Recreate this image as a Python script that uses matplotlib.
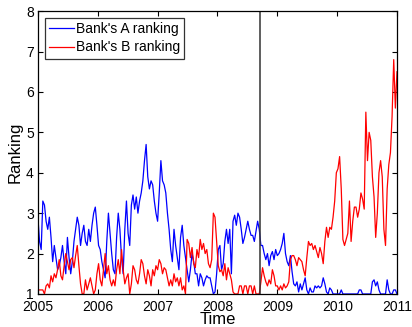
import matplotlib
matplotlib.use("Agg")
import matplotlib.pyplot as plt
import pandas as pd

plt.rcParams['font.family'] = ['Liberation Sans', 'DejaVu Sans']

start_date = "2005-01-01"
step = "10D"

bank_a = [
    2.9, 2.3, 2.1, 3.3, 3.2, 2.8, 2.6, 2.9, 2.4, 1.8, 2.2, 1.9, 1.6, 1.7, 1.9, 2.2, 1.8, 1.5, 2.4, 1.9,
    1.5, 1.8, 2.3, 2.6, 2.9, 2.7, 2.2, 2.5, 2.7, 2.3, 2.2, 2.6, 2.3, 2.7, 3.0, 3.15, 2.7, 2.2, 2.1, 1.8,
    1.6, 1.4, 2.3, 3.0, 2.5, 2.0, 1.6, 1.5, 2.4, 3.0, 2.6, 1.9, 1.5, 2.6, 3.3, 2.5, 2.2, 3.2, 3.45, 3.1,
    3.4, 3.0, 3.3, 3.5, 3.8, 4.3, 4.7, 3.9, 3.6, 3.8, 3.7, 3.3, 3.0, 2.8, 3.5, 4.3, 3.8, 3.7, 3.5, 3.0,
    2.6, 2.1, 1.8, 2.6, 2.2, 1.9, 1.6, 2.4, 2.7, 2.2, 1.9, 1.6, 1.3, 1.6, 2.0, 1.8, 1.5, 1.5, 1.2, 1.5,
    1.4, 1.2, 1.35, 1.45, 1.4, 1.4, 1.2, 1.0, 1.05, 1.5, 2.1, 2.2, 1.6, 1.75, 2.3, 2.6, 2.25, 2.6, 1.5, 2.8,
    2.95, 2.7, 3.0, 2.9, 2.6, 2.25, 2.4, 2.6, 2.8, 2.6, 2.45, 2.45, 2.3, 2.55, 2.8, 2.6, 2.2, 2.2, 2.0, 1.85,
    2.0, 1.7, 1.95, 2.05, 1.85, 2.1, 1.95, 2.0, 2.1, 2.25, 2.5, 2.0, 1.8, 1.7, 1.95, 1.55, 1.25, 1.2, 1.3, 1.05,
    1.25, 1.1, 1.25, 1.4, 1.1, 1.0, 1.15, 1.05, 1.05, 1.2, 1.15, 1.2, 1.15, 1.2, 1.4, 1.25, 1.05, 1.0, 1.15, 1.1,
    1.0, 1.0, 1.0, 1.0, 1.0, 1.1, 1.0, 1.0, 1.0, 1.0, 1.0, 1.0, 1.0, 1.0, 1.0, 1.0, 1.1, 1.1, 1.0, 1.0,
    1.0, 1.0, 1.0, 1.0, 1.3, 1.35, 1.2, 1.3, 1.1, 1.0, 1.0, 1.0, 1.0, 1.35, 1.1, 1.0, 1.0, 1.1, 1.1, 1.0,
]

bank_b = [
    1.1, 1.1, 1.1, 1.1, 1.0, 1.2, 1.25, 1.15, 1.45, 1.3, 1.5, 1.4, 1.6, 1.85, 1.45, 1.35, 1.7, 2.0, 1.8, 1.6,
    1.85, 1.9, 1.65, 1.95, 2.2, 1.7, 1.25, 1.0, 1.0, 1.35, 1.1, 1.25, 1.4, 1.2, 1.0, 1.1, 1.5, 1.75, 1.35, 1.2,
    1.6, 2.0, 1.5, 1.7, 1.35, 1.2, 1.35, 1.2, 1.6, 1.85, 1.5, 2.1, 1.6, 1.25, 1.4, 1.5, 1.0, 1.25, 1.7, 1.6,
    1.35, 1.25, 1.5, 1.85, 1.75, 1.45, 1.25, 1.6, 1.45, 1.2, 1.6, 1.45, 1.7, 1.6, 1.85, 1.75, 1.5, 1.65, 1.6, 1.4,
    1.2, 1.35, 1.2, 1.5, 1.3, 1.4, 1.2, 1.4, 1.1, 1.2, 1.0, 2.35, 2.25, 1.9, 2.15, 1.75, 1.65, 2.1, 1.9, 2.35,
    2.1, 2.25, 2.0, 2.1, 1.75, 1.65, 1.85, 3.0, 2.9, 2.3, 1.7, 1.55, 1.6, 1.45, 1.75, 1.35, 1.65, 1.5, 1.35, 1.05,
    1.0, 1.0, 1.0, 1.2, 1.2, 1.0, 1.2, 1.2, 1.0, 1.2, 1.2, 1.0, 1.2, 1.0, 1.0, 1.0, 1.3, 1.65, 1.45, 1.3,
    1.2, 1.35, 1.25, 1.6, 1.45, 1.2, 1.2, 1.1, 1.2, 1.1, 1.25, 1.15, 1.2, 1.3, 1.85, 1.95, 1.95, 1.85, 1.7, 1.9,
    1.85, 1.8, 1.6, 1.45, 1.9, 2.3, 2.2, 2.25, 2.1, 2.2, 2.05, 1.9, 2.15, 2.0, 1.75, 2.3, 2.65, 2.4, 2.65, 2.6,
    2.9, 3.3, 4.0, 4.1, 4.4, 3.6, 2.35, 2.2, 2.35, 2.5, 3.3, 2.3, 2.8, 3.15, 3.15, 2.9, 3.1, 3.5, 3.35, 3.1,
    5.5, 4.3, 5.0, 4.8, 3.9, 3.4, 2.4, 3.0, 4.0, 4.3, 3.9, 2.6, 2.2, 3.6, 4.2, 4.5, 5.4, 6.8, 5.6, 6.5,
]

year_ticks = [2005, 2006, 2007, 2008, 2009, 2010, 2011]
event_date = "2008-09-15"

dates = pd.date_range(start_date, periods=len(bank_a), freq=step)

fig = plt.figure(figsize=(4.12, 3.27), dpi=100)
ax = fig.add_axes([0.092, 0.101, 0.872, 0.865])

ax.plot(dates, bank_a, color=(0, 0, 1), lw=0.9, label="Bank's A ranking")
ax.plot(dates, bank_b, color=(1, 0, 0), lw=0.9, label="Bank's B ranking")
ax.axvline(pd.Timestamp(event_date), color='#333333', lw=1.1)

ax.set_xlim(pd.Timestamp("2005-01-01"), pd.Timestamp("2011-01-01"))
ax.set_ylim(1, 8)
ax.set_xticks([pd.Timestamp(f"{y}-01-01") for y in year_ticks])
ax.set_xticklabels([str(y) for y in year_ticks])
ax.set_yticks(range(1, 9))

ax.tick_params(direction='in', top=True, right=True, length=3.5, width=0.8,
               labelsize=10)
ax.tick_params(axis='x', pad=4)
ax.tick_params(axis='y', pad=3)
for s in ax.spines.values():
    s.set_linewidth(0.9)
    s.set_color('black')

ax.set_xlabel("Time", fontsize=12, labelpad=-1)
ax.set_ylabel("Ranking", fontsize=12, labelpad=2)

leg = ax.legend(loc='upper left', fontsize=10, frameon=True, fancybox=False,
                edgecolor='black', handlelength=1.8, handletextpad=0.15,
                borderpad=0.3, labelspacing=0.3, borderaxespad=0.5)
leg.get_frame().set_linewidth(0.9)

fig.savefig("out.png", dpi=100)
